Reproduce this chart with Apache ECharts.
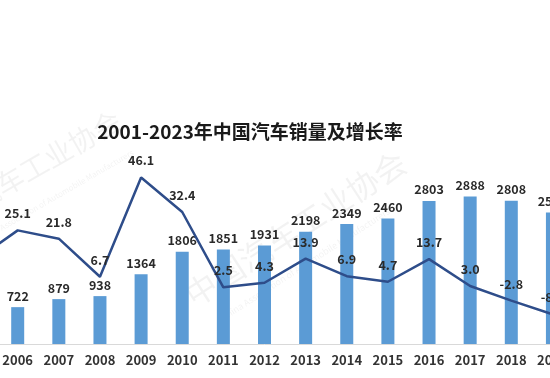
<!DOCTYPE html>
<html><head><meta charset="utf-8">
<script src="https://cdn.jsdelivr.net/npm/echarts@6/dist/echarts.min.js"></script>
<style>html,body{margin:0;padding:0;background:#fff;overflow:hidden;width:550px;height:378px;position:relative}
#c{position:absolute;left:-44px;top:0;width:617px;height:378px}</style>
</head><body><div id="c"></div>
<script>
const years = ['2005','2006','2007','2008','2009','2010','2011','2012','2013','2014','2015','2016','2017','2018','2019'];
const sales = [576,722,879,938,1364,1806,1851,1931,2198,2349,2460,2803,2888,2808,2577];
const growth = [13.5,25.1,21.8,6.7,46.1,32.4,2.5,4.3,13.9,6.9,4.7,13.7,3.0,-2.8,-8.2];
const titleText = '2001-2023年中国汽车销量及增长率';
const wmCn = '中国汽车工业协会';
const wmEn = 'China Association of Automobile Manufacturers';

const FF = '"Noto Sans CJK SC","Noto Sans",sans-serif';
const OFF = 44; // div offset
const A = Math.PI / 6;
const wmFill = 'rgba(0,0,0,0.05)';
const chart = echarts.init(document.getElementById('c'), null, {renderer:'canvas'});
chart.setOption({
  backgroundColor:'#fff',
  animation:false,
  textStyle:{fontFamily:FF},
  graphic:[
    {type:'text',x:250+OFF,y:132,z:10,
      style:{text:titleText,fontSize:19,fontWeight:'bold',fill:'#1a1a1a',fontFamily:FF,
        textAlign:'center',textVerticalAlign:'middle'}},
    {type:'text',x:OFF-75,y:230,rotation:A,z:0,
      style:{text:wmCn,fontSize:28,fill:wmFill,fontFamily:FF,textVerticalAlign:'middle'}},
    {type:'text',x:OFF-20,y:240,rotation:A,z:0,
      style:{text:wmEn,fontSize:8,fill:wmFill,fontFamily:FF,textVerticalAlign:'middle'}},
    {type:'text',x:OFF+188,y:298,rotation:A+0.05,z:0,
      style:{text:wmCn,fontSize:32,fill:wmFill,fontFamily:FF,textVerticalAlign:'middle'}},
    {type:'text',x:OFF+222,y:318,rotation:A+0.05,z:0,
      style:{text:wmEn,fontSize:9,fill:wmFill,fontFamily:FF,textVerticalAlign:'middle'}}
  ],
  grid:{left:0,right:0,top:150,bottom:34,containLabel:false},
  xAxis:{type:'category',data:years,
    axisLine:{lineStyle:{color:'#d9d9d9',width:1}},
    axisTick:{show:false},
    axisLabel:{interval:0,fontSize:13,fontWeight:'bold',color:'#333',margin:10,fontFamily:FF}},
  yAxis:[
    {type:'value',min:0,max:3800,show:false,splitLine:{show:false}},
    {type:'value',min:-20,max:57,show:false,splitLine:{show:false}}
  ],
  series:[
    {type:'bar',data:sales,yAxisIndex:0,barWidth:13,
      itemStyle:{color:'#5b9bd5'},
      label:{show:true,position:'top',distance:5,fontSize:12.5,fontWeight:'bold',color:'#2a2a2a',fontFamily:FF}},
    {type:'line',data:growth,yAxisIndex:1,showSymbol:true,symbol:'circle',symbolSize:1,
      itemStyle:{color:'#2e4d8a'},
      lineStyle:{color:'#2e4d8a',width:2.5},
      label:{show:true,position:'top',distance:10,fontSize:12.5,fontWeight:'bold',color:'#2a2a2a',fontFamily:FF,
        formatter:p=>Number(p.value).toFixed(1)},
      z:3}
  ]
});
</script></body></html>
